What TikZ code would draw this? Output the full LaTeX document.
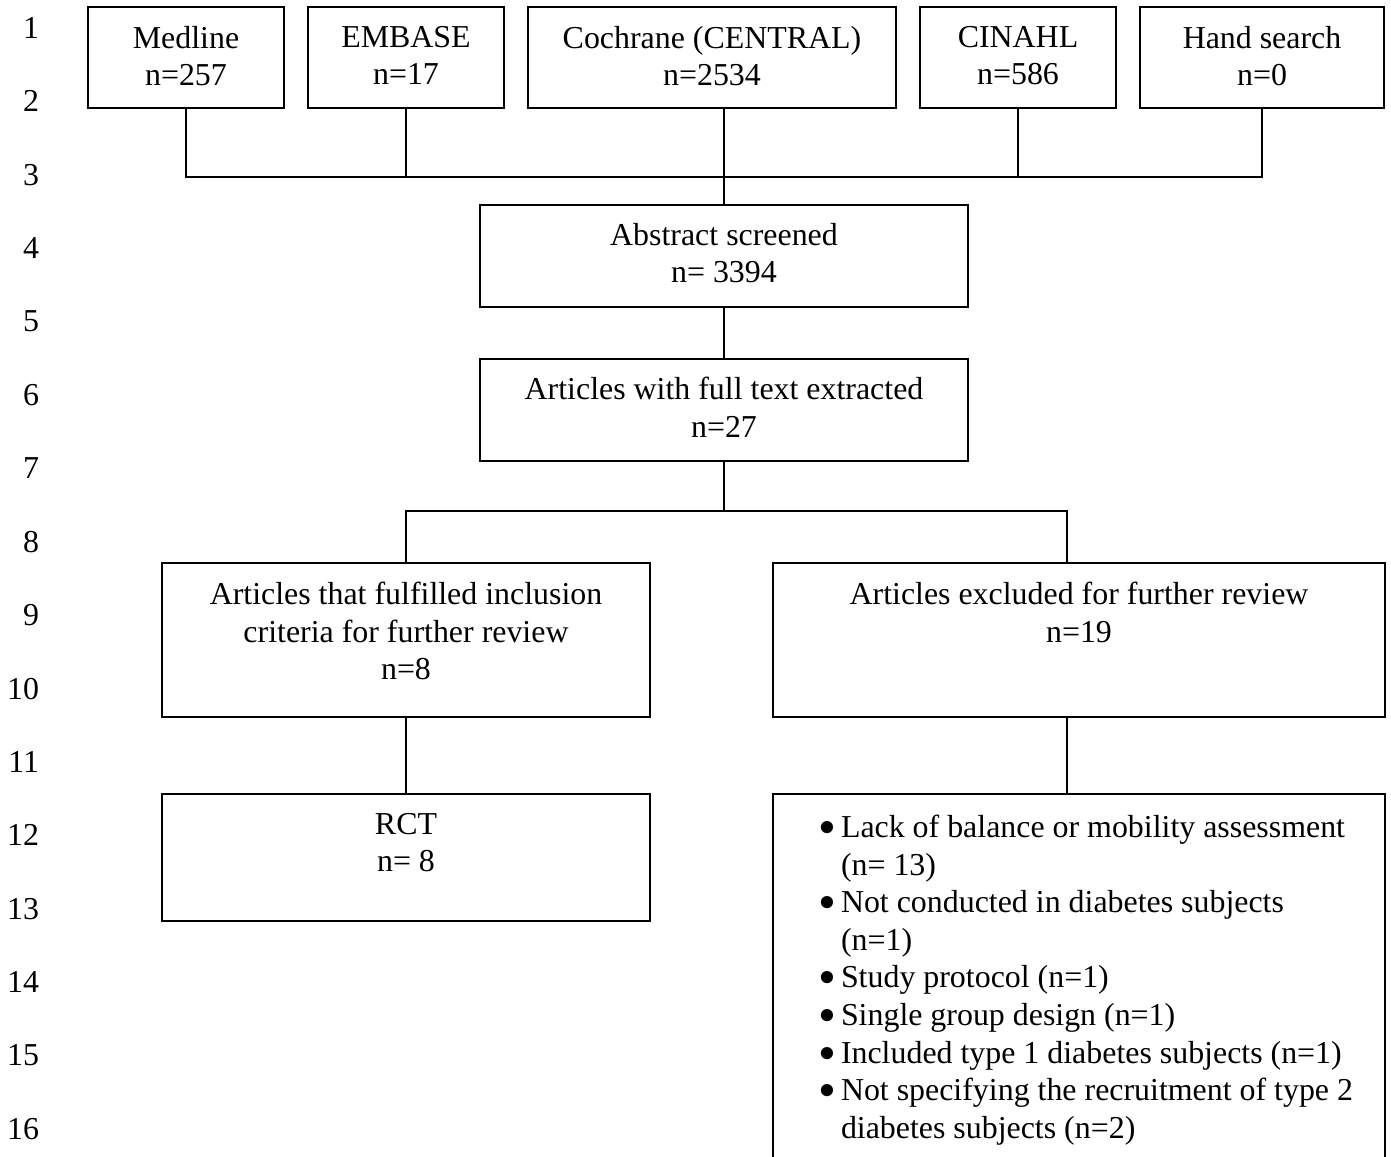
\documentclass[tikz,border=0pt]{standalone}
\usepackage{graphicx}
\usepackage{fontspec}
\setmainfont{Liberation Serif}
\usetikzlibrary{positioning}

\newcommand{\itembullet}{\makebox[22pt][l]{\hspace{-1pt}\smash{\raisebox{-7pt}{\scalebox{1.6}{\textbullet}}}}}
\newcommand{\itemgap}{\hspace*{22pt}}

\begin{document}
\begin{tikzpicture}[x=1pt,y=-1pt,line width=2pt,
    box/.style={draw,rectangle,inner sep=0pt,outer sep=0pt,anchor=north west},
    box text/.style={inner sep=0pt,align=center,font=\fontsize{31.9}{37.6}\selectfont},
    line num/.style={inner sep=0pt,anchor=east,font=\fontsize{31.9}{37.6}\selectfont}]

    \clip (0,0) rectangle (1391,1156);

    % line numbers
    \foreach \i in {1,...,16}
        \node[line num] (num\i) at (40,{28+73.4*(\i-1)}) {\i};

    % sources
    \node[box,minimum width=196pt,minimum height=101pt] (medline) at (88,7) {};
    \node[box,minimum width=196pt,minimum height=101pt] (embase) at (308,7) {};
    \node[box,minimum width=368pt,minimum height=101pt] (cochrane) at (528,7) {};
    \node[box,minimum width=196pt,minimum height=101pt] (cinahl) at (920,7) {};
    \node[box,minimum width=244pt,minimum height=101pt] (hand) at (1140,7) {};

    \node[box text,below=18pt of medline.north] (medlinetext) {Medline\\n=257};
    \node[box text,below=18pt of embase.north] (embasetext) {EMBASE\\n=17};
    \node[box text,below=18pt of cochrane.north] (cochranetext) {Cochrane (CENTRAL)\\n=2534};
    \node[box text,below=18pt of cinahl.north] (cinahltext) {CINAHL\\n=586};
    \node[box text,below=18pt of hand.north] (handtext) {Hand search\\n=0};

    % screening
    \node[box,minimum width=488pt,minimum height=102pt] (abstract) at (480,205) {};
    \node[box,minimum width=488pt,minimum height=102pt] (fulltext) at (480,359) {};
    \node[box text,below=17pt of abstract.north] (abstracttext) {Abstract screened\\n= 3394};
    \node[box text,below=17pt of fulltext.north] (fulltexttext) {Articles with full text extracted\\n=27};

    % included / excluded
    \node[box,minimum width=488pt,minimum height=154pt] (incl) at (162,563) {};
    \node[box,minimum width=612pt,minimum height=154pt] (excl) at (773,563) {};
    \node[box,minimum width=488pt,minimum height=127pt] (rct) at (162,794) {};
    \node[box,minimum width=612pt,minimum height=420pt] (reasons) at (773,794) {};

    \node[box text,below=18pt of incl.north] (incltext) {Articles that fulfilled inclusion\\criteria for further review\\n=8};
    \node[box text,below=18pt of excl.north] (excltext) {Articles excluded for further review\\n=19};
    \node[box text,below=18pt of rct.north] (rcttext) {RCT\\n= 8};
    \node[box text,align=left,anchor=north west] (reasonstext) at (818,814) {%
        \itembullet Lack of balance or mobility assessment\\
        \itemgap (n= 13)\\
        \itembullet Not conducted in diabetes subjects\\
        \itemgap (n=1)\\
        \itembullet Study protocol (n=1)\\
        \itembullet Single group design (n=1)\\
        \itembullet Included type 1 diabetes subjects (n=1)\\
        \itembullet Not specifying the recruitment of type 2\\
        \itemgap diabetes subjects (n=2)};

    % connectors
    \coordinate (bar) at (724,177);
    \coordinate (split) at (724,511);

    \draw (medline.south) |- (bar) -| (hand.south);
    \draw (embase.south) -- (embase.south |- bar);
    \draw (cinahl.south) -- (cinahl.south |- bar);
    \draw (cochrane.south -| abstract.north) -- (abstract.north);
    \draw (abstract.south) -- (fulltext.north);
    \draw (fulltext.south) -- (split);
    \draw (incl.north) |- (split) -| ([xshift=-12pt]excl.north);
    \draw (incl.south) -- (rct.north);
    \draw ([xshift=-12pt]excl.south) -- ([xshift=-12pt]reasons.north);
\end{tikzpicture}
\end{document}
